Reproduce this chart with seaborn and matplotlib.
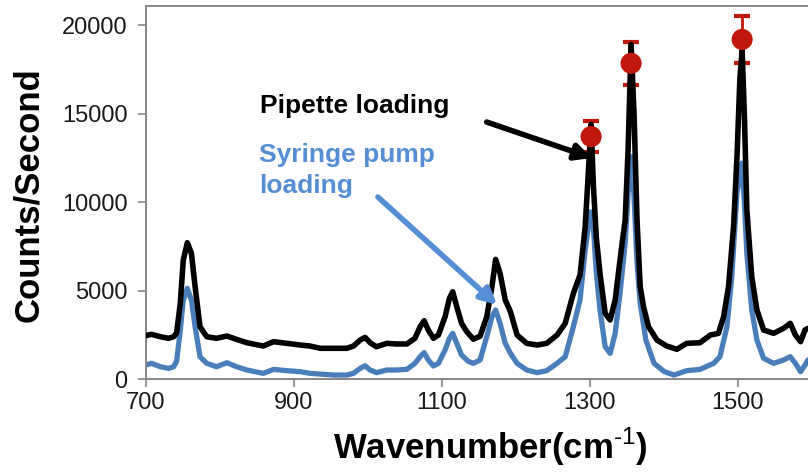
import numpy as np
import pandas as pd
import matplotlib
matplotlib.use("Agg")
import matplotlib.pyplot as plt
import seaborn as sns

# Raman spectrum, pipette loading (black)
pipette_wn = [700, 708, 720, 731, 738, 742, 747, 751, 756.5, 762, 767, 773.6, 782.7,
              796, 810, 823, 837, 859, 873, 891, 909, 922, 936, 954, 972, 981, 990,
              996.6, 1003.4, 1012, 1026, 1039.5, 1053, 1064, 1071, 1076.4, 1082, 1089,
              1095.7, 1104.7, 1110.6, 1115, 1120.5, 1127, 1134, 1143, 1152, 1161, 1168,
              1173, 1179, 1186, 1193, 1202, 1215, 1229, 1242, 1256, 1267, 1278, 1287,
              1294, 1298, 1302, 1305, 1309, 1314, 1321, 1327.7, 1334.5, 1341, 1348,
              1352, 1356, 1360, 1364, 1368.3, 1372.8, 1379.5, 1391, 1404, 1418, 1431,
              1449, 1463, 1474, 1481, 1487.6, 1494.4, 1499, 1503, 1506, 1509, 1512.4,
              1519, 1526, 1535, 1548.5, 1562, 1571, 1578, 1585, 1591, 1595]
pipette_counts = [2450, 2525, 2390, 2300, 2390, 2600, 4280, 6720, 7700, 7100, 5215, 2955, 2390,
                  2300, 2430, 2240, 2050, 1865, 2110, 2015, 1920, 1865, 1735, 1735, 1735, 1865, 2200,
                  2355, 2050, 1825, 2015, 1980, 1980, 2300, 2955, 3295, 2770, 2300,
                  2485, 3520, 4560, 4930, 4085, 3145, 2675, 2250, 2420, 3520, 5215,
                  6760, 5970, 4465, 3805, 2485, 2015, 1920, 2015, 2485, 3145, 4840, 5875,
                  8605, 11500, 14400, 11000, 8000, 5970, 3710, 3335, 4465, 6720, 8985,
                  13000, 18900, 15000, 9000, 5215, 4085, 2955, 2200, 1865, 1680, 2015,
                  2050, 2485, 2580, 3520, 5215, 8605, 12500, 17000, 18600, 15000, 9550,
                  5780, 3900, 2770, 2580, 2865, 3145, 2485, 2110, 2770, 2865]

# Raman spectrum, syringe pump loading (blue)
syringe_wn = [700, 708, 720, 731, 738, 742, 747, 751, 756.5, 762, 767, 773.6, 782.7,
              796, 810, 823, 837, 859, 873, 891, 909, 922, 936, 954, 972, 981, 990,
              996.6, 1003.4, 1012, 1026, 1039.5, 1053, 1064, 1071, 1076.4, 1082, 1089,
              1095.7, 1104.7, 1110.6, 1115, 1120.5, 1127, 1136, 1143, 1152, 1161, 1168,
              1173, 1179, 1186, 1193, 1202, 1215, 1229, 1242, 1256, 1267, 1278, 1287,
              1294, 1301, 1305, 1309, 1314, 1321, 1327.7, 1334.5, 1341, 1348, 1352,
              1357, 1360, 1363.8, 1368.3, 1376, 1387, 1401, 1414, 1431, 1449, 1467.5,
              1476, 1485.5, 1492, 1499, 1505.7, 1509, 1512.4, 1519, 1526, 1535, 1548.5,
              1562, 1571, 1578, 1585, 1591, 1595]
syringe_counts = [790, 885, 695, 600, 695, 1000, 2770, 4460, 5120, 4460, 2955, 1260, 885,
                  695, 920, 695, 510, 320, 545, 470, 415, 320, 280, 225, 225, 320, 600,
                  750, 510, 360, 510, 510, 545, 885, 1260, 1490, 1075, 735,
                  885, 1640, 2300, 2580, 2015, 1355, 1000, 885, 1075, 2390, 3520,
                  3900, 3145, 2015, 1450, 885, 510, 360, 470, 885, 1260, 2955, 4465,
                  7290, 9450, 8605, 6000, 3900, 1825, 1450, 2580, 4840, 7665, 10490,
                  12560, 10300, 6720, 4275, 2200, 885, 415, 225, 470, 545, 885,
                  1260, 2955, 5780, 10490, 12200, 10000, 7100, 3900, 2200, 1170, 885,
                  1075, 1260, 885, 415, 790, 1075]

# Mean peak intensities with standard deviations
peak_wn = [1302, 1356, 1506]
peak_mean = [13700, 17840, 19190]
peak_sd = [900, 1200, 1330]

x_ticks = [700, 900, 1100, 1300, 1500]
y_ticks = [0, 5000, 10000, 15000, 20000]

sns.set_theme(style="white")
plt.rcParams["font.family"] = ["Liberation Sans", "DejaVu Sans"]
plt.rcParams["mathtext.fontset"] = "custom"
plt.rcParams["mathtext.rm"] = "Liberation Sans"
plt.rcParams["mathtext.bf"] = "Liberation Sans:bold"

BLACK = "#000000"
BLUE_LINE = "#4A7EBB"
BLUE_TEXT = "#558ED5"
RED = "#C0180A"
GREY = "#868686"

fig = plt.figure(figsize=(8.08, 4.74), dpi=100)
ax = fig.add_axes([0.1801, 0.2004, 0.8199, 0.7859])

pip = pd.DataFrame({"wn": pipette_wn, "counts": pipette_counts})
syr = pd.DataFrame({"wn": syringe_wn, "counts": syringe_counts})
pk = pd.DataFrame({"wn": peak_wn, "mean": peak_mean, "sd": peak_sd})

ax.errorbar(pk["wn"], pk["mean"], yerr=pk["sd"], fmt="none", ecolor=RED,
            elinewidth=2.0, capsize=5.5, capthick=3, zorder=1)
sns.lineplot(data=syr, x="wn", y="counts", color=BLUE_LINE, lw=3.8, ax=ax,
             zorder=2, estimator=None, sort=False)
sns.lineplot(data=pip, x="wn", y="counts", color=BLACK, lw=4.0, ax=ax,
             zorder=3, estimator=None, sort=False)
sns.scatterplot(data=pk, x="wn", y="mean", color=RED, s=230, edgecolor="none",
                ax=ax, zorder=4)

ax.set_xlim(700, 1595)
ax.set_ylim(0, 21050)
ax.set_xticks(x_ticks)
ax.set_yticks(y_ticks)
ax.set_xticklabels([str(t) for t in x_ticks])
ax.set_yticklabels([str(t) for t in y_ticks])

for side in ["left", "bottom", "top"]:
    ax.spines[side].set_color(GREY)
    ax.spines[side].set_linewidth(1.4)
ax.spines["right"].set_visible(False)

ax.tick_params(axis="both", which="major", direction="out", length=6, width=1.2,
               color=GREY, labelsize=17, labelcolor="#1a1a1a",
               bottom=True, left=True)
ax.tick_params(axis="y", pad=7)
ax.tick_params(axis="x", pad=3)

ax.set_ylabel("Counts/Second", fontsize=25, fontweight="bold", color=BLACK)
ax.set_xlabel(r"Wavenumber(cm$^{\text{-1}}$)", fontsize=25, fontweight="bold",
              color=BLACK)
ax.yaxis.set_label_coords(-0.152, 0.494)
ax.xaxis.set_label_coords(0.52, -0.125)
ax.xaxis.label.set_verticalalignment("top")

ax.text(854.7, 15030, "Pipette loading", fontsize=19, fontweight="bold",
        color=BLACK, ha="left", va="baseline")
ax.text(853, 13350, "Syringe pump\nloading", fontsize=19, fontweight="bold",
        color=BLUE_TEXT, ha="left", va="top", linespacing=1.4)

ax.annotate("", xy=(1303, 12490), xytext=(1161, 14520),
            arrowprops=dict(arrowstyle="-|>", lw=4, color=BLACK,
                            mutation_scale=24, shrinkA=0, shrinkB=0))
ax.annotate("", xy=(1175, 4181), xytext=(1014, 10283),
            arrowprops=dict(arrowstyle="-|>", lw=4, color=BLUE_TEXT,
                            mutation_scale=24, shrinkA=0, shrinkB=0))

fig.savefig("out.png", dpi=100)
